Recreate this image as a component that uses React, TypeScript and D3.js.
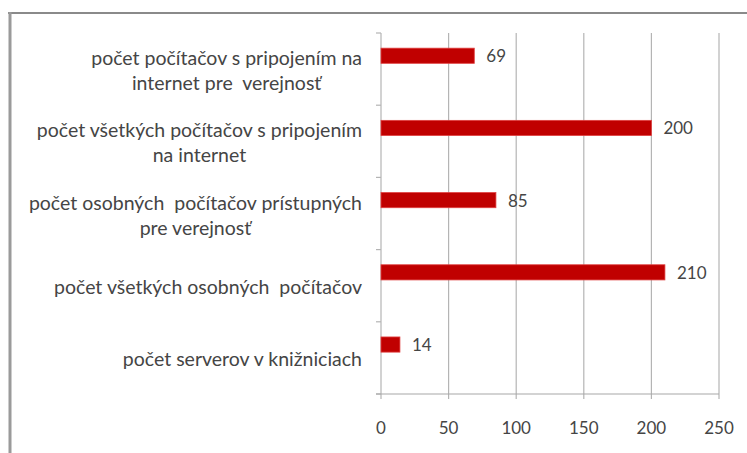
import React, { useLayoutEffect, useRef } from "react";
import * as d3 from "d3";

const categories: string[][] = [
  ["počet počítačov s pripojením na", "internet pre  verejnosť"],
  ["počet všetkých počítačov s pripojením", "na internet"],
  ["počet osobných  počítačov prístupných", "pre verejnosť"],
  ["počet všetkých osobných  počítačov"],
  ["počet serverov v knižniciach"],
];
const values = [69, 200, 85, 210, 14];
const xTicks = [0, 50, 100, 150, 200, 250];

const W = 747;
const H = 453;
const plot = { left: 381, right: 719, top: 33, bottom: 394 };
const labelRight = 362;
const FONT = "Lato, 'Open Sans', sans-serif";
const TEXT = "#454545";

export default function App() {
  const labelsRef = useRef<SVGGElement>(null);
  const x = d3.scaleLinear().domain([0, 250]).range([plot.left, plot.right]);
  const ids = categories.map((_, i) => String(i));
  const y = d3.scaleBand().domain(ids).range([plot.top, plot.bottom]).padding(0);
  const bw = y.bandwidth();

  useLayoutEffect(() => {
    const g = labelsRef.current;
    if (!g) return;
    g.querySelectorAll<SVGGElement>("g.lab").forEach((el) => {
      el.setAttribute("transform", "");
      const b = el.getBBox();
      const dx = labelRight - (b.x + b.width);
      el.setAttribute("transform", `translate(${dx},0)`);
    });
  }, []);

  const lineH = 25;

  return (
    <svg
      width={W}
      height={H}
      style={{ position: "absolute", left: 0, top: 0, background: "#fff" }}
      fontFamily={FONT}
    >
      <rect x={0} y={0} width={W} height={H} fill="#fff" />
      {/* outer frame */}
      <line x1={8} x2={W} y1={13} y2={13} stroke="#8a8a8a" strokeWidth={2} />
      <line x1={10} x2={10} y1={12} y2={H} stroke="#9a9a9a" strokeWidth={3} />

      {/* gridlines */}
      {xTicks.map((t) => (
        <line
          key={"g" + t}
          x1={x(t)}
          x2={x(t)}
          y1={plot.top}
          y2={plot.bottom + 5}
          stroke="#b4b4b4"
          strokeWidth={1.2}
        />
      ))}
      {/* y axis ticks */}
      {[...ids.map((id) => y(id)!), plot.bottom].map((v, i) => (
        <line key={"yt" + i} x1={plot.left - 5} x2={plot.left} y1={v} y2={v} stroke="#b4b4b4" strokeWidth={1.2} />
      ))}
      {/* x axis line */}
      <line x1={plot.left - 5} x2={plot.right} y1={plot.bottom} y2={plot.bottom} stroke="#a8a8a8" strokeWidth={1.2} />

      {/* bars */}
      {values.map((v, i) => {
        const y0 = y(ids[i])! + bw * 0.21;
        return (
          <g key={"b" + i}>
            <rect
              x={x(0)}
              y={y0}
              width={x(v) - x(0)}
              height={bw * 0.21}
              fill="#c00000"
              stroke="#e04040"
              strokeWidth={0.8}
            />
            <text
              x={x(v) + 12}
              y={y0 + bw * 0.105}
              dominantBaseline="central"
              fontSize={17}
              fill={TEXT}
            >
              {v}
            </text>
          </g>
        );
      })}

      {/* category labels */}
      <g ref={labelsRef}>
        {categories.map((lines, i) => {
          const cy = y(ids[i])! + bw / 2 + 1;
          const start = cy - ((lines.length - 1) * lineH) / 2;
          return (
            <g className="lab" key={"l" + i}>
              {lines.map((ln, j) => (
                <text
                  key={j}
                  x={0}
                  y={start + j * lineH}
                  textAnchor="middle"
                  dominantBaseline="central"
                  fontSize={19.5}
                  fill={TEXT}
                  style={{ whiteSpace: "pre" }}
                >
                  {ln}
                </text>
              ))}
            </g>
          );
        })}
      </g>

      {/* x tick labels */}
      {xTicks.map((t) => (
        <text
          key={"xl" + t}
          x={x(t)}
          y={427}
          textAnchor="middle"
          dominantBaseline="central"
          fontSize={17}
          fill={TEXT}
        >
          {t}
        </text>
      ))}
    </svg>
  );
}
